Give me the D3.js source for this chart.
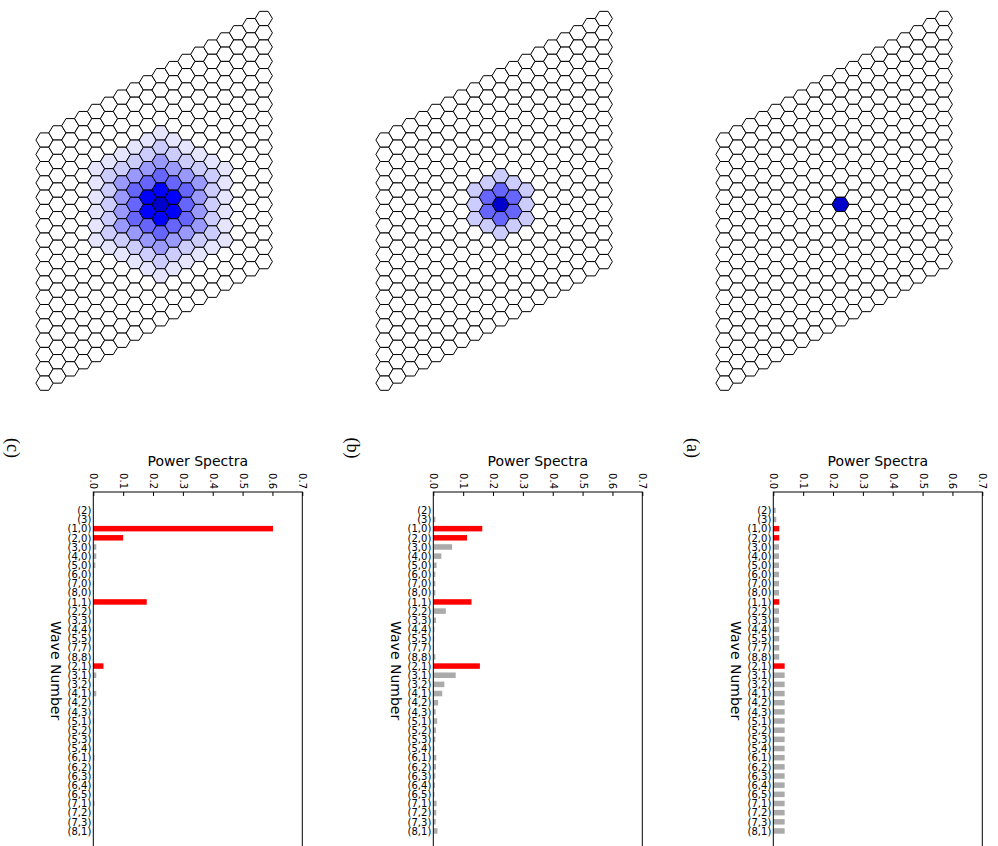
<!DOCTYPE html>
<html>
<head>
<meta charset="utf-8">
<script src="https://cdn.jsdelivr.net/npm/d3@7"></script>
<style>
  body { margin: 0; background: #fff; }
  text { font-family: "DejaVu Sans", sans-serif; }
</style>
</head>
<body>
<div id="chart"></div>
<script>
// wave numbers on the category axis
const waveLabels = ["(2)","(3)","(1,0)","(2,0)","(3,0)","(4,0)","(5,0)","(6,0)","(7,0)","(8,0)",
  "(1,1)","(2,2)","(3,3)","(4,4)","(5,5)","(7,7)","(8,8)",
  "(2,1)","(3,1)","(3,2)","(4,1)","(4,2)","(4,3)","(5,1)","(5,2)","(5,3)","(5,4)",
  "(6,1)","(6,2)","(6,3)","(6,4)","(6,5)","(7,1)","(7,2)","(7,3)","(8,1)"];
const redWaves = ["(1,0)","(2,0)","(1,1)","(2,1)"];
const powerTicks = [0, 0.1, 0.2, 0.3, 0.4, 0.5, 0.6, 0.7];

// power spectra, one value per wave number
const spectraC = [0, 0, 0.602, 0.100, 0.010, 0.010, 0.007, 0.002, 0.003, 0.002,
  0.179, 0.002, 0.001, 0.002, 0.001, 0.001, 0.001,
  0.034, 0.010, 0.002, 0.010, 0.002, 0.000, 0.003, 0.001, 0.001, 0.001,
  0.004, 0.001, 0.001, 0.001, 0.001, 0.004, 0.001, 0.001, 0.001];
const spectraB = [0.002, 0.007, 0.164, 0.113, 0.063, 0.027, 0.011, 0.007, 0.007, 0.007,
  0.128, 0.042, 0.009, 0.004, 0.003, 0.002, 0.007,
  0.156, 0.075, 0.037, 0.030, 0.016, 0.008, 0.013, 0.009, 0.007, 0.004,
  0.010, 0.009, 0.007, 0.006, 0.004, 0.011, 0.010, 0.008, 0.014];
const spectraA = [0.008, 0.010, 0.020, 0.020, 0.019, 0.019, 0.019, 0.019, 0.019, 0.019,
  0.020, 0.019, 0.019, 0.020, 0.020, 0.020, 0.020,
  0.038, 0.038, 0.038, 0.038, 0.038, 0.038, 0.038, 0.038, 0.038, 0.038,
  0.038, 0.038, 0.038, 0.038, 0.038, 0.038, 0.038, 0.038, 0.038];

// hex lattice: colour by hex distance from the centre cell
const gridSize = 18;
const centerCell = [9, 9];
const ringColorsC = ["#0000cc", "#0000ff", "#6666ff", "#9999ff", "#ccccff", "#e5e5ff"];
const ringColorsB = ["#0000cc", "#6666ff", "#ccccff"];
const ringColorsA = ["#0000cc"];

const panelNames = ["(c)", "(b)", "(a)"];

const panels = [
  {name: panelNames[0], spectra: spectraC, rings: ringColorsC},
  {name: panelNames[1], spectra: spectraB, rings: ringColorsB},
  {name: panelNames[2], spectra: spectraA, rings: ringColorsA}
];

const chartWidth = 998;
const chartHeight = 846;
const panelStep = 340;

const svg = d3.select("#chart").append("svg")
  .attr("width", chartWidth)
  .attr("height", chartHeight);

// hex geometry
const colStep = 12.9, rowStep = 14.3;
const rx = colStep / 1.5, hy = rowStep / 2;
const hexPath = `M${rx},0L${rx/2},${hy}L${-rx/2},${hy}L${-rx},0L${-rx/2},${-hy}L${rx/2},${-hy}Z`;

const cells = [];
for (let i = 0; i < gridSize; i++) {
  for (let j = 0; j < gridSize; j++) {
    const di = i - centerCell[0], dj = j - centerCell[1];
    cells.push({i, j, d: Math.max(Math.abs(di), Math.abs(dj), Math.abs(di - dj))});
  }
}

// bar chart frame
const frameLeft = 93.3, frameRight = 302.3, frameTop = 492, frameBottom = 849.3;

panels.forEach(function (p, k) {
  const g = svg.append("g").attr("transform", `translate(${k * panelStep},0)`);

  // ---- hex grid ----
  const hx = d3.scaleLinear().domain([0, gridSize - 1]).range([44.5, 44.5 + (gridSize - 1) * colStep]);
  const hyS = d3.scaleLinear().domain([0, gridSize - 1]).range([18.5, 18.5 + (gridSize - 1) * rowStep]);

  g.append("g").selectAll("path")
    .data(cells)
    .join("path")
    .attr("d", hexPath)
    .attr("transform", d => `translate(${hx(d.i)},${hyS(d.j) + (gridSize - 1 - d.i) * hy})`)
    .attr("fill", d => d.d < p.rings.length ? p.rings[d.d] : "#ffffff")
    .attr("stroke", "#000")
    .attr("stroke-width", 1);

  // ---- power spectra bars ----
  const x = d3.scaleLinear().domain([0, 0.7]).range([frameLeft, frameRight]);
  const y = d3.scalePoint().domain(waveLabels).range([frameTop, frameBottom]).padding(2);
  const barH = 5.5;

  g.append("g").selectAll("rect")
    .data(waveLabels.map((w, n) => ({w, v: p.spectra[n]})))
    .join("rect")
    .attr("x", x(0))
    .attr("y", d => y(d.w) - barH / 2)
    .attr("width", d => x(d.v) - x(0))
    .attr("height", barH)
    .attr("fill", d => redWaves.includes(d.w) ? "#ff0000" : "#aaaaaa");

  g.append("rect")
    .attr("x", frameLeft).attr("y", frameTop)
    .attr("width", frameRight - frameLeft).attr("height", frameBottom - frameTop)
    .attr("fill", "none").attr("stroke", "#000").attr("stroke-width", 1);

  const top = g.append("g")
    .attr("transform", `translate(0,${frameTop})`)
    .call(d3.axisTop(x).tickValues(powerTicks).tickSize(-4).tickFormat(d3.format(".1f")));
  top.select(".domain").remove();
  top.selectAll("text")
    .attr("x", -3).attr("y", 0).attr("dy", "0.35em")
    .attr("transform", "rotate(90)")
    .attr("text-anchor", "end")
    .style("font-size", "10px")
    .style("font-family", "DejaVu Sans");

  const left = g.append("g")
    .attr("transform", `translate(${frameLeft},0)`)
    .call(d3.axisLeft(y).tickSize(0).tickPadding(2));
  left.select(".domain").remove();
  left.selectAll("text")
    .style("font-size", "10px")
    .style("font-family", "DejaVu Sans");

  g.append("text")
    .attr("x", (frameLeft + frameRight) / 2).attr("y", 466)
    .attr("text-anchor", "middle")
    .style("font-size", "14px")
    .text("Power Spectra");

  g.append("text")
    .attr("transform", `translate(51,${(frameTop + frameBottom) / 2}) rotate(90)`)
    .attr("text-anchor", "middle")
    .style("font-size", "14px")
    .text("Wave Number");

  g.append("text")
    .attr("transform", "translate(7,448) rotate(90)")
    .attr("text-anchor", "middle")
    .style("font-family", "Liberation Serif, serif")
    .style("font-size", "18px")
    .text(p.name);
});
</script>
</body>
</html>
